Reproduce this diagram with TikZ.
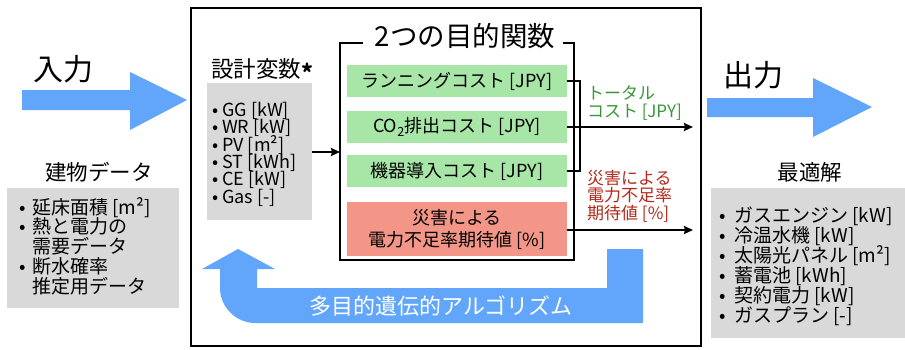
\documentclass[tikz,border=0pt]{standalone}
\usepackage{fontspec}
\setmainfont{Noto Sans CJK JP}
\usetikzlibrary{arrows.meta,calc}
\definecolor{ablue}{RGB}{97,166,250}
\definecolor{agreen}{RGB}{168,230,168}
\definecolor{ared}{RGB}{243,150,135}
\definecolor{agrey}{RGB}{217,217,217}
\definecolor{tgreen}{RGB}{56,150,56}
\definecolor{tred}{RGB}{178,42,28}
\newcommand{\fs}[2]{\fontsize{#1}{#2}\selectfont\lineskiplimit=-100pt\relax}
\newcommand{\bul}[1]{\makebox[#1][l]{•}}
\tikzset{
  greybox/.style={fill=agrey, draw=none, inner sep=0pt},
  listtext/.style={inner sep=0pt, align=left, anchor=base west},
  objbox/.style={fill=agreen, draw=none, minimum width=220, minimum height=32, inner sep=0pt, font=\fs{18}{21}},
  redbox/.style={fill=ared, draw=none, minimum width=220, minimum height=54, inner sep=0pt, font=\fs{18}{22}, align=center},
  heading/.style={inner sep=0pt, font=\fs{21.5}{24}},
  bigheading/.style={inner sep=0pt, font=\fs{30}{32}},
  conn/.style={line width=2pt, -{Stealth[length=9pt,width=8pt,inset=1pt]}},
  frame/.style={line width=2.5pt},
  blockarrow/.style={fill=ablue, draw=none}
}
\begin{document}
\begin{tikzpicture}[x=1pt,y=-1pt]
\useasboundingbox (0,0) rectangle (905,349);

% outer frame
\draw[frame] (191,8) rectangle (701,346);

% input arrow
\fill[blockarrow] (22,90) -- (130,90) -- (130,72) -- (187,100) -- (130,130) -- (130,110) -- (22,110) -- cycle;
\node[bigheading] (inlabel) at (64,69) {入力};
\node[heading] (bldg) at (99,172) {建物データ};
\node[greybox, anchor=north west, minimum width=172, minimum height=120] (bdata) at (7,188) {};
% anchor = baseline of the last line
\node[listtext, font=\fs{19}{19.7}] (bdatatext) at (19,293) {%
\bul{13pt}延床面積 [m²]\\
\bul{13pt}熱と電力の\\
\hspace*{13pt}需要データ\\
\bul{13pt}断水確率\\
\hspace*{13pt}推定用データ};

% output arrow
\fill[blockarrow] (707,98) -- (813,98) -- (813,78) -- (872,107) -- (813,137) -- (813,117) -- (707,117) -- cycle;
\node[bigheading] (outlabel) at (753,75) {出力};
\node[heading] (opt) at (810,172) {最適解};
\node[greybox, anchor=north west, minimum width=194, minimum height=150] (odata) at (711,188) {};
\node[listtext, font=\fs{19}{20}] (odatatext) at (719,322) {%
\bul{15pt}ガスエンジン [kW]\\
\bul{15pt}冷温水機 [kW]\\
\bul{15pt}太陽光パネル [m²]\\
\bul{15pt}蓄電池 [kWh]\\
\bul{15pt}契約電力 [kW]\\
\bul{15pt}ガスプラン [-]};

% design variables
\node[heading, font=\fs{22.5}{24}] (dvlabel) at (262,70) {設計変数\raisebox{-4pt}{\bfseries *}};
\node[greybox, minimum width=105, minimum height=137] (dv) at (259.5,151.5) {};
\node[listtext, font=\fs{18}{17.3}] (dvtext) at (212,203) {%
\bul{10pt}GG [kW]\\
\bul{10pt}WR [kW]\\
\bul{10pt}PV [m²]\\
\bul{10pt}ST [kWh]\\
\bul{10pt}CE [kW]\\
\bul{10pt}Gas [-]};

% objective bracket
\node[inner sep=0pt, font=\fs{27.5}{30}] (objtitle) at (465,36) {2つの目的関数};
\draw[frame] (363,43) -- (340,43) -- (340,260) -- (574,260) -- (574,43) -- (563,43);
\coordinate (objin) at (340,152);
\draw[conn] (dv.east |- objin) -- (objin);

\node[objbox] (g1) at (457,81) {ランニングコスト [JPY]};
\node[objbox] (g2) at (457,127) {CO\textsubscript{2}排出コスト [JPY]};
\node[objbox] (g3) at (457,171) {機器導入コスト [JPY]};
\node[redbox] (r1) at (457,229) {災害による\\電力不足率期待値 [\%]};

% connectors
\draw[line width=2pt] (g1.east) -- ($(g1.east)+(13,0)$) -- ($(g3.east)+(13,0)$) -- (g3.east);
\coordinate (out1) at (693,127);
\coordinate (out2) at (693,230);
\draw[conn] (g2.east) -- (out1);
\draw[conn] (r1.east |- out2) -- (out2);

\node[anchor=west, inner sep=0pt, align=left, text=tgreen, font=\fs{17}{17.5}] (totlabel) at (587,103) {トータル\\コスト [JPY]};
\node[anchor=west, inner sep=0pt, align=left, text=tred, font=\fs{17}{17.5}] (risklabel) at (587,196) {災害による\\電力不足率\\期待値 [\%]};

% feedback arrow
\fill[blockarrow] (238,249) -- (275,269) -- (257,269) -- (257,288) -- (607,288) -- (607,249) -- (643,249) -- (643,323) -- (255,323) .. controls (236,323) and (220,307) .. (220,288) -- (220,269) -- (202,269) -- cycle;
\node[inner sep=0pt, text=white, font=\fs{22}{24}] (ga) at (441,306) {多目的遺伝的アルゴリズム};
\end{tikzpicture}
\end{document}
